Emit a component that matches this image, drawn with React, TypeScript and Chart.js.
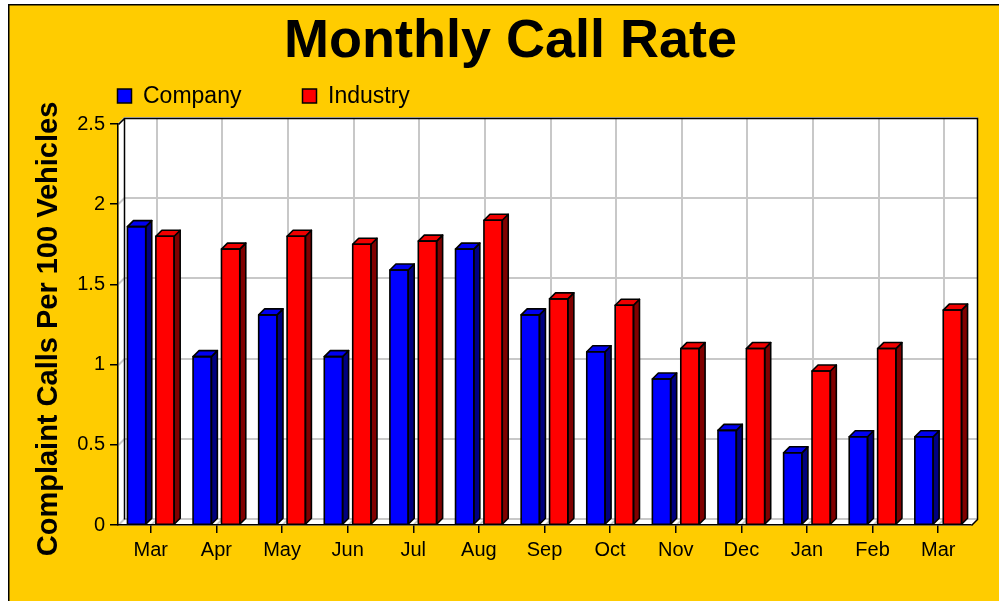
import React, { useEffect, useRef } from "react";
import { Chart, registerables } from "chart.js";

Chart.register(...registerables);

// ---- data ----
const months = ["Mar", "Apr", "May", "Jun", "Jul", "Aug", "Sep", "Oct", "Nov", "Dec", "Jan", "Feb", "Mar"];
const company = [1.86, 1.05, 1.31, 1.05, 1.59, 1.72, 1.31, 1.08, 0.91, 0.59, 0.45, 0.55, 0.55];
const industry = [1.8, 1.72, 1.8, 1.75, 1.77, 1.9, 1.41, 1.37, 1.1, 1.1, 0.96, 1.1, 1.34];
const seriesNames = ["Company", "Industry"];
const yMin = 0;
const yMax = 2.5;
const yStep = 0.5;
const titleText = "Monthly Call Rate";
const yTitleText = "Complaint Calls Per 100 Vehicles";

// ---- styles ----
const FONT = "'Liberation Sans', Arial, Helvetica, sans-serif";
const DEPTH = 6;
const frontColors = ["#0000FF", "#FF0000"];
const topColors = ["#0000F0", "#F00000"];
const sideColors = ["#000080", "#800000"];
const GRID = "#C8C8C8";

const backdrop = {
  id: "backdrop",
  beforeDraw(chart: any) {
    const { ctx, chartArea: a, scales } = chart;
    const d = DEPTH;
    const W = chart.width;
    const H = chart.height;
    ctx.save();
    ctx.fillStyle = "#FFFFFF";
    ctx.fillRect(0, 0, W, H);
    ctx.fillStyle = "#FFCC00";
    ctx.fillRect(8, 4, W - 8, H - 4);
    ctx.fillStyle = "#000";
    ctx.fillRect(8, 4, W - 8, 1.5);
    ctx.fillRect(8, 4, 1.5, H - 4);

    const L = a.left + 0.5, R = a.right + 0.5, T = a.top + 0.5, B = a.bottom + 0.5;
    // back wall
    ctx.fillStyle = "#FFFFFF";
    ctx.fillRect(L + d, T - d, R - L, B - T);
    // left wall
    ctx.beginPath();
    ctx.moveTo(L, B); ctx.lineTo(L, T); ctx.lineTo(L + d, T - d); ctx.lineTo(L + d, B - d); ctx.closePath();
    ctx.fill();
    // floor
    ctx.beginPath();
    ctx.moveTo(L, B); ctx.lineTo(R, B); ctx.lineTo(R + d, B - d); ctx.lineTo(L + d, B - d); ctx.closePath();
    ctx.fill();

    // grid
    ctx.strokeStyle = GRID;
    ctx.lineWidth = 2;
    const ys = scales.y;
    for (let v = yMin; v <= yMax + 1e-9; v += yStep) {
      const y = Math.round(ys.getPixelForValue(v));
      ctx.beginPath();
      ctx.moveTo(L, y); ctx.lineTo(L + d, y - d); ctx.lineTo(R + d, y - d);
      ctx.stroke();
    }
    const xs = scales.x;
    for (let i = 0; i < months.length; i++) {
      const x = Math.round(xs.getPixelForValue(i));
      ctx.beginPath();
      ctx.moveTo(x, B); ctx.lineTo(x + d, B - d); ctx.lineTo(x + d, T - d);
      ctx.stroke();
    }

    // edges
    ctx.strokeStyle = "#000";
    ctx.lineWidth = 1.5;
    ctx.beginPath();
    ctx.moveTo(L + d, B - d); ctx.lineTo(L + d, T - d); ctx.lineTo(R + d, T - d); ctx.lineTo(R + d, B - d); ctx.lineTo(R, B);
    ctx.moveTo(L, T); ctx.lineTo(L + d, T - d);
    ctx.stroke();
    ctx.restore();
  },
};

const bars3d = {
  id: "bars3d",
  afterDatasetsDraw(chart: any) {
    const { ctx } = chart;
    const d = DEPTH;
    ctx.save();
    ctx.strokeStyle = "#000";
    ctx.lineWidth = 1.6;
    ctx.lineJoin = "round";
    chart.data.datasets.forEach((_: any, di: number) => {
      const meta = chart.getDatasetMeta(di);
      meta.data.forEach((bar: any) => {
        const p = bar.getProps(["x", "y", "base", "width"], true);
        const l = p.x - p.width / 2, r = p.x + p.width / 2, t = p.y, b = p.base;
        // side
        ctx.fillStyle = sideColors[di];
        ctx.beginPath();
        ctx.moveTo(r, t); ctx.lineTo(r + d, t - d); ctx.lineTo(r + d, b - d); ctx.lineTo(r, b); ctx.closePath();
        ctx.fill(); ctx.stroke();
        // top
        ctx.fillStyle = topColors[di];
        ctx.beginPath();
        ctx.moveTo(l, t); ctx.lineTo(l + d, t - d); ctx.lineTo(r + d, t - d); ctx.lineTo(r, t); ctx.closePath();
        ctx.fill(); ctx.stroke();
        // front outline
        ctx.strokeRect(l, t, r - l, b - t);
      });
    });
    ctx.restore();
  },
};

const texts = {
  id: "texts",
  afterDraw(chart: any) {
    const { ctx } = chart;
    ctx.save();
    ctx.fillStyle = "#000";
    ctx.font = `bold 54px ${FONT}`;
    ctx.textAlign = "center";
    ctx.textBaseline = "alphabetic";
    ctx.fillText(titleText, 510.5, 57);

    // legend
    ctx.font = `23px ${FONT}`;
    ctx.textAlign = "left";
    const lx = [117.5, 302.5];
    seriesNames.forEach((name, i) => {
      ctx.fillStyle = frontColors[i];
      ctx.fillRect(lx[i], 89, 14, 14);
      ctx.strokeStyle = "#000";
      ctx.lineWidth = 1.5;
      ctx.strokeRect(lx[i], 89, 14, 14);
      ctx.fillStyle = "#000";
      ctx.fillText(name, lx[i] + 25.5, 103);
    });

    // y title
    ctx.translate(57, 329);
    ctx.rotate(-Math.PI / 2);
    ctx.font = `bold 29px ${FONT}`;
    ctx.textAlign = "center";
    ctx.fillText(yTitleText, 0, 0);
    ctx.restore();
  },
};

export default function App() {
  const ref = useRef<HTMLCanvasElement>(null);
  useEffect(() => {
    const canvas = ref.current!;
    const chart = new Chart(canvas, {
      type: "bar",
      data: {
        labels: months,
        datasets: [company, industry].map((data, i) => ({
          label: seriesNames[i],
          data,
          backgroundColor: frontColors[i],
          borderColor: "#000",
          borderWidth: 0,
          borderSkipped: false,
          categoryPercentage: 0.866,
          barPercentage: 0.644,
        })),
      },
      options: {
        responsive: false,
        animation: false,
        devicePixelRatio: 1,
        layout: { padding: { left: 0, top: 124, right: 28, bottom: 0 } },
        plugins: {
          legend: { display: false },
          title: { display: false },
          tooltip: { enabled: false },
        },
        scales: {
          x: {
            grid: { display: true, drawOnChartArea: false, offset: false, tickLength: 8, color: "#000", lineWidth: 1.5 },
            border: { display: true, color: "#000", width: 1.5 },
            ticks: { color: "#000", font: { family: FONT, size: 20 }, padding: 5, autoSkip: false, maxRotation: 0 },
            afterFit: (s: any) => { s.height = 76; },
          },
          y: {
            min: yMin,
            max: yMax,
            grid: { display: true, drawOnChartArea: false, tickLength: 8, color: "#000", lineWidth: 1.5 },
            border: { display: true, color: "#000", width: 1.5 },
            ticks: {
              stepSize: yStep,
              color: "#000",
              font: { family: FONT, size: 20 },
              padding: 5,
              callback: (v: any) => String(v),
            },
            afterFit: (s: any) => { s.width = 118; },
          },
        },
      } as any,
      plugins: [backdrop, bars3d, texts],
    });
    return () => chart.destroy();
  }, []);
  return (
    <div style={{ position: "fixed", left: 0, top: 0, width: 999, height: 601 }}>
      <canvas ref={ref} width={999} height={601} style={{ display: "block" }} />
    </div>
  );
}
